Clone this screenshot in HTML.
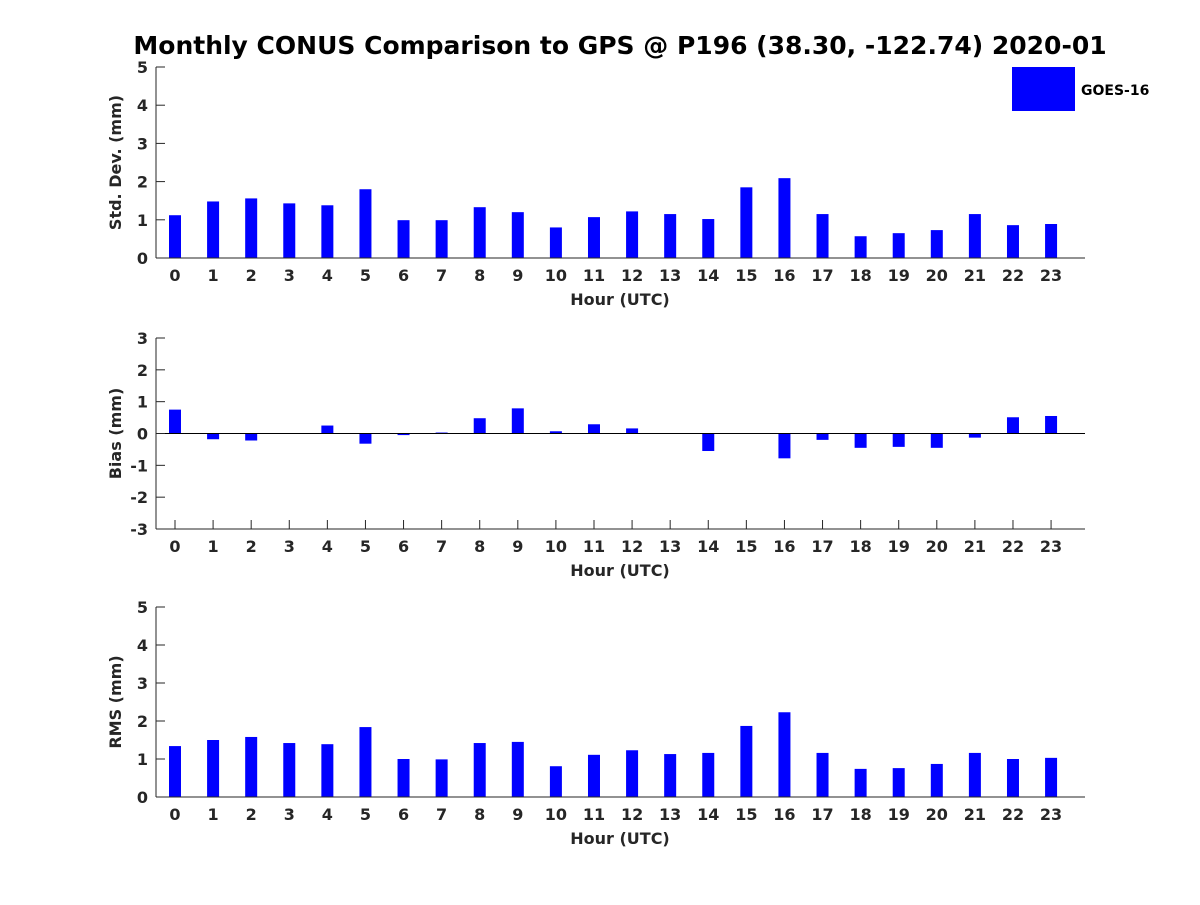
<!DOCTYPE html>
<html><head><meta charset="utf-8"><style>
body{margin:0;background:#fff;}
svg text{font-family:"DejaVu Sans","Liberation Sans",sans-serif;font-weight:bold;fill:#262626;}
</style></head><body>
<svg id="chart" width="1200" height="900" xmlns="http://www.w3.org/2000/svg">
<rect width="1200" height="900" fill="#fff"/>
<text x="620" y="54" text-anchor="middle" font-size="25" style="fill:#000">Monthly CONUS Comparison to GPS @ P196 (38.30, -122.74) 2020-01</text>
<g>
<rect x="1012" y="67" width="63" height="44" fill="#0000ff"/>
<text x="1081" y="95" font-size="14" style="fill:#000">GOES-16</text>
</g>
</svg>
<script>
const hours=[0,1,2,3,4,5,6,7,8,9,10,11,12,13,14,15,16,17,18,19,20,21,22,23];
const stdDev=[1.12,1.48,1.56,1.43,1.38,1.80,0.99,0.99,1.33,1.20,0.80,1.07,1.22,1.15,1.02,1.85,2.09,1.15,0.57,0.65,0.73,1.15,0.86,0.89];
const bias=[0.75,-0.18,-0.22,0,0.25,-0.32,-0.05,0.03,0.48,0.79,0.07,0.29,0.16,0,-0.55,0,-0.78,-0.2,-0.45,-0.42,-0.45,-0.13,0.51,0.55];
const rms=[1.34,1.50,1.58,1.42,1.39,1.84,1.00,0.99,1.42,1.45,0.81,1.11,1.23,1.13,1.16,1.87,2.23,1.16,0.74,0.76,0.87,1.16,1.00,1.03];
const stdTicks=[0,1,2,3,4,5];
const biasTicks=[-3,-2,-1,0,1,2,3];
const rmsTicks=[0,1,2,3,4,5];
const svg=document.getElementById('chart');
const NS='http://www.w3.org/2000/svg';
function mk(tag,attrs){const e=document.createElementNS(NS,tag);for(const k in attrs)e.setAttribute(k,attrs[k]);svg.appendChild(e);return e;}
const xL=156,xR=1085;
function xs(h){return 175+h*38.09;}
function panel(name,top,bot,ymin,ymax,ticks,vals,ylabel){
  const ys=v=>bot-(v-ymin)/(ymax-ymin)*(bot-top);
  const y0=ys(Math.max(0,ymin));
  hours.forEach(h=>{
    const x=xs(h);
    mk('line',{x1:x,x2:x,y1:bot,y2:bot-9,stroke:'#262626'});
  });
  vals.forEach((v,i)=>{
    const a=ys(v);
    const r=mk('rect',{x:xs(hours[i])-6,y:Math.min(a,y0),width:12,height:Math.abs(a-y0),fill:'#0000ff'});
    
    
  });
  if(ymin<0){const z=mk('line',{x1:xL,x2:xR,y1:y0,y2:y0,stroke:'#000','stroke-width':1});
    
    }
  const ya=mk('line',{x1:xL,x2:xL,y1:top,y2:bot,stroke:'#262626'});
  
  
  const xa=mk('line',{x1:xL,x2:xR,y1:bot,y2:bot,stroke:'#262626'});
  
  
  ticks.forEach(t=>{
    const y=ys(t);
    mk('line',{x1:xL,x2:xL+9,y1:y,y2:y,stroke:'#262626'});
    const tx=mk('text',{x:xL-8,y:y+6,'text-anchor':'end','font-size':16});
    tx.textContent=t;
    
    
  });
  hours.forEach(h=>{
    const x=xs(h);
    const tx=mk('text',{x:x,y:bot+23,'text-anchor':'middle','font-size':16});
    tx.textContent=h;
    
    
  });
  const xt=mk('text',{x:620,y:bot+47,'text-anchor':'middle','font-size':16});
  xt.textContent='Hour (UTC)';
  
  
  const cy=(top+bot)/2;
  const yt=mk('text',{x:0,y:0,'text-anchor':'middle','font-size':16,transform:'translate(121,'+cy+') rotate(-90)'});
  yt.textContent=ylabel;
  
  
}
panel('std-dev',67,258,0,5,stdTicks,stdDev,'Std. Dev. (mm)');
panel('bias',338,529,-3,3,biasTicks,bias,'Bias (mm)');
panel('rms',607,797,0,5,rmsTicks,rms,'RMS (mm)');
</script>
</body></html>
